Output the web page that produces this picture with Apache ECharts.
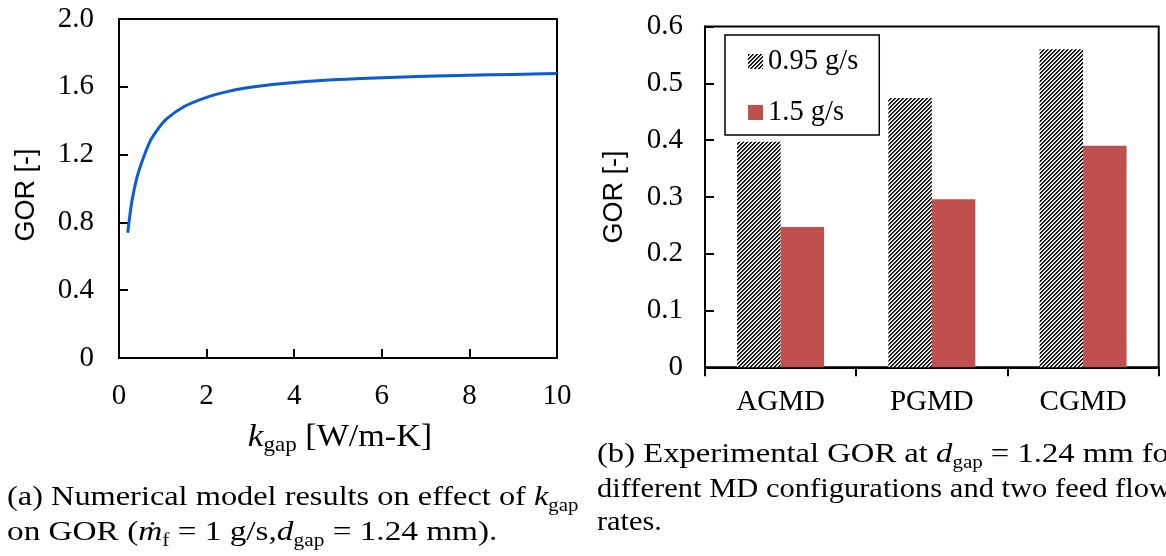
<!DOCTYPE html>
<html><head><meta charset="utf-8">
<script src="https://cdn.jsdelivr.net/npm/echarts@6/dist/echarts.min.js"></script>
<style>html,body{margin:0;padding:0;background:#fff}#c{width:1166px;height:556px}</style>
</head><body><div id="c"></div>
<script>
// ---- data (a): numerical model ----
const kGap     = [0.2, 0.25, 0.3, 0.4, 0.5, 0.7, 0.9, 1.1, 1.5, 2.0, 2.5, 3.0, 3.5, 4.0, 5.0, 6.0, 7.0, 8.0, 9.0, 10.0];
const gorModel = [0.739, 0.847, 0.932, 1.055, 1.14, 1.274, 1.355, 1.414, 1.485, 1.538, 1.573, 1.597, 1.614, 1.626, 1.643, 1.654, 1.662, 1.668, 1.673, 1.678];
// ---- data (b): experiments ----
const categories = ['AGMD', 'PGMD', 'CGMD'];
const seriesNames = ['0.95 g/s', '1.5 g/s'];
const gor095 = [0.397, 0.474, 0.560];
const gor15  = [0.247, 0.296, 0.390];
// axis tick settings
const xTicksA = {min: 0, max: 10, interval: 2};
const yTicksA = {min: 0, max: 2.0, interval: 0.4};
const yTicksB = {min: 0, max: 0.6, interval: 0.1};

const SERIF = '"Liberation Serif", "Times New Roman", serif';
const SANS = '"Liberation Sans", Arial, sans-serif';

function hatch(p) {
  const c = document.createElement('canvas');
  c.width = c.height = p;
  const g = c.getContext('2d');
  const img = g.createImageData(p, p);
  for (let y = 0; y < p; y++) for (let x = 0; x < p; x++) {
    const m = (x + y) % p;
    const v = m === 0 ? 0 : (m === 1 ? 40 : (m === 2 ? 215 : 255));
    const o = (y * p + x) * 4;
    img.data[o] = img.data[o + 1] = img.data[o + 2] = v; img.data[o + 3] = 255;
  }
  g.putImageData(img, 0, 0);
  return c;
}
const hatchFill = {image: hatch(4), repeat: 'repeat'};

const axisLine = {show: true, lineStyle: {color: '#000', width: 2}};
const tickStyle = {color: '#000', width: 2};
const labelBase = {fontFamily: SERIF, fontSize: 29, color: '#000'};
const fmt1 = v => v === 0 ? '0' : v.toFixed(1);

const capRich = {
  i: {fontFamily: SERIF, fontStyle: 'italic', fontSize: 28, lineHeight: 34},
  s: {fontFamily: SERIF, fontSize: 18, lineHeight: 34, verticalAlign: 'bottom'}
};
function caption(x, y, text, sx) {
  return {type: 'text', x: x, y: y, scaleX: sx, originX: 0,
    style: {text: text, align: 'left', verticalAlign: 'middle', fontFamily: SERIF, fontSize: 28, fill: '#000', rich: capRich}};
}

const chart = echarts.init(document.getElementById('c'), null, {renderer: 'canvas'});
chart.setOption({
  animation: false,
  backgroundColor: '#fff',
  grid: [
    {left: 119, top: 19, width: 438, height: 339, show: true, borderColor: '#000', borderWidth: 2, backgroundColor: 'transparent'},
    {left: 705, top: 26.5, width: 453.7, height: 340.8, show: true, borderColor: '#000', borderWidth: 2, backgroundColor: 'transparent'}
  ],
  xAxis: [
    {type: 'value', gridIndex: 0, min: xTicksA.min, max: xTicksA.max, interval: xTicksA.interval,
     axisLine, axisTick: {show: true, inside: true, length: 9, lineStyle: tickStyle},
     axisLabel: Object.assign({margin: 24}, labelBase), splitLine: {show: false}},
    {type: 'category', gridIndex: 1, data: categories,
     axisLine, axisTick: {show: true, inside: false, length: 9, alignWithLabel: false, lineStyle: tickStyle},
     axisLabel: Object.assign({margin: 21}, labelBase), splitLine: {show: false}}
  ],
  yAxis: [
    {type: 'value', gridIndex: 0, min: yTicksA.min, max: yTicksA.max, interval: yTicksA.interval,
     axisLine, axisTick: {show: true, inside: true, length: 9, lineStyle: tickStyle},
     axisLabel: Object.assign({margin: 25, formatter: fmt1}, labelBase), splitLine: {show: false}},
    {type: 'value', gridIndex: 1, min: yTicksB.min, max: yTicksB.max, interval: yTicksB.interval,
     axisLine, axisTick: {show: true, inside: true, length: 9, lineStyle: tickStyle},
     axisLabel: Object.assign({margin: 22, formatter: fmt1}, labelBase), splitLine: {show: false}}
  ],
  legend: {
    left: 725, top: 35, orient: 'vertical', data: seriesNames, icon: 'rect',
    itemWidth: 15, itemHeight: 15, itemGap: 22,
    borderColor: '#000', borderWidth: 1.5, padding: [12, 21, 8, 23],
    textStyle: {fontFamily: SERIF, fontSize: 28.5, color: '#000'}
  },
  series: [
    {type: 'line', xAxisIndex: 0, yAxisIndex: 0, data: kGap.map((k, i) => [k, gorModel[i]]),
     smooth: 0.3, showSymbol: false, symbol: 'none',
     lineStyle: {color: '#0a5bd6', width: 3}},
    {type: 'bar', name: seriesNames[0], xAxisIndex: 1, yAxisIndex: 1, data: gor095,
     barGap: '0%', barCategoryGap: '42.5%', itemStyle: {color: hatchFill}},
    {type: 'bar', name: seriesNames[1], xAxisIndex: 1, yAxisIndex: 1, data: gor15,
     barGap: '0%', barCategoryGap: '42.5%', itemStyle: {color: '#C0504D'}}
  ],
  graphic: [
    {type: 'text', x: 27, y: 195, rotation: Math.PI / 2,
     style: {text: 'GOR [-]', fontFamily: SANS, fontSize: 27, fill: '#000', align: 'center', verticalAlign: 'middle'}},
    {type: 'text', x: 614.5, y: 197, rotation: Math.PI / 2,
     style: {text: 'GOR [-]', fontFamily: SANS, fontSize: 27, fill: '#000', align: 'center', verticalAlign: 'middle'}},
    {type: 'text', x: 340, y: 438, scaleX: 1.1,
     style: {text: '{k|k}{s|gap}{t| [W/m-K]}', align: 'center', verticalAlign: 'middle', fill: '#000',
       rich: {k: {fontFamily: SERIF, fontStyle: 'italic', fontSize: 32, lineHeight: 36, fill: '#000'},
              s: {fontFamily: SERIF, fontSize: 21, lineHeight: 36, verticalAlign: 'bottom', fill: '#000'},
              t: {fontFamily: SERIF, fontSize: 31, lineHeight: 36, fill: '#000'}}}},
    // caption (a)
    caption(7, 498, '(a) Numerical model results on effect of {i|k}{s|gap}', 1.156),
    caption(7, 533, 'on GOR ({i|ṁ}{s|f} = 1 g/s,{i|d}{s|gap} = 1.24 mm).', 1.188),
    // caption (b)
    caption(597, 455, '(b) Experimental GOR at {i|d}{s|gap} = 1.24 mm for', 1.166),
    caption(597, 490, 'different MD configurations and two feed flow', 1.09),
    caption(597, 523, 'rates.', 1.085)
  ]
});
</script></body></html>
